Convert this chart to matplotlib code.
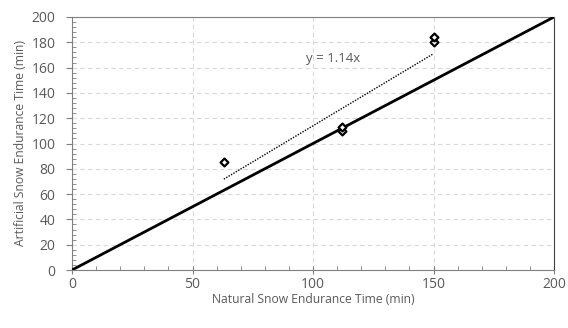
import matplotlib
matplotlib.use("Agg")
import matplotlib.pyplot as plt
from matplotlib.ticker import MultipleLocator
import numpy as np

natural = [63, 112, 112, 150, 150]
artificial = [85, 110, 113, 180, 184]
slope = 1.14
trend_x = [63, 150]
one_to_one = [0, 200]

plt.rcParams['font.family'] = ['Open Sans', 'DejaVu Sans']
fig = plt.figure(figsize=(5.68, 3.28), dpi=100)
ax = fig.add_axes([72/568, 1-270/328, (554-72)/568, (270-17)/328])

ax.plot(one_to_one, one_to_one, color='black', lw=2, zorder=3)
tx = np.array(trend_x)
ax.plot(tx, slope*tx, color='black', lw=1, ls=(0, (1, 1)), zorder=3)
ax.scatter(natural, artificial, marker='D', s=16, facecolor='white', edgecolor='black', linewidths=1.6, zorder=4)
ax.text(97, 167, 'y = 1.14x', color='#595959', fontsize=9.5, va='center', ha='left')

ax.set_xlim(0, 200)
ax.set_ylim(0, 200)
ax.xaxis.set_major_locator(MultipleLocator(50))
ax.xaxis.set_minor_locator(MultipleLocator(10))
ax.yaxis.set_major_locator(MultipleLocator(20))
ax.yaxis.set_minor_locator(MultipleLocator(4))
ax.grid(True, which='major', color='#d9d9d9', ls=(0, (4, 3)), lw=0.8)
ax.set_axisbelow(True)
ax.tick_params(which='major', direction='out', length=4, color='#7f7f7f', labelcolor='#595959', labelsize=10)
ax.tick_params(axis='y', which='major', pad=8)
ax.tick_params(which='minor', direction='in', length=3, color='#7f7f7f')
ax.tick_params(axis='x', which='major', direction='inout', length=6, pad=2)
for s in ax.spines.values():
    s.set_color('#7f7f7f')
    s.set_linewidth(0.8)
ax.spines['right'].set_color('#404040')
ax.set_xlabel('Natural Snow Endurance Time (min)', color='#595959', fontsize=8.7, labelpad=1)
ax.set_ylabel('Artificial Snow Endurance Time (min)', color='#595959', fontsize=8.7, labelpad=3)

fig.savefig('out.png', dpi=100)
